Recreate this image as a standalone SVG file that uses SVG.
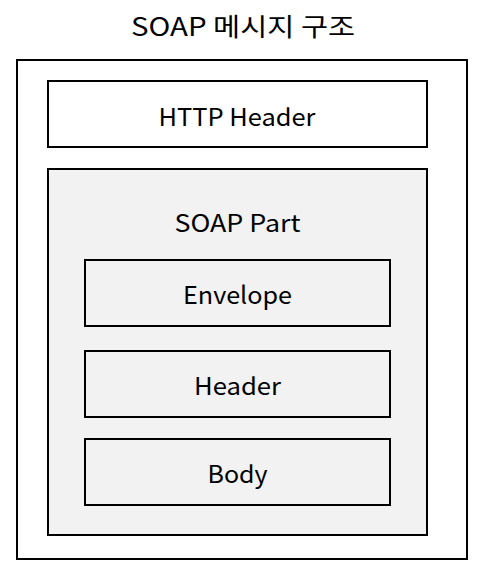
<svg xmlns="http://www.w3.org/2000/svg" width="489" height="573" viewBox="0 0 489 573">
<style>
rect{stroke:#000;stroke-width:2}
text{font-family:"Noto Sans CJK KR","Malgun Gothic","Noto Sans",sans-serif;font-size:24px;fill:#000;text-anchor:middle}
.t{font-size:25px}
.w{fill:#fff}.g{fill:#f2f2f2}
</style>
<rect width="489" height="573" fill="#fff" style="stroke:none"/>
<g id="title"><text class="t" x="243" y="36" textLength="224" lengthAdjust="spacingAndGlyphs">SOAP 메시지 구조</text></g>
<g id="message"><rect class="w" x="17" y="60" width="450" height="499"/></g>
<g id="http-header"><rect class="w" x="48" y="81" width="379" height="66"/><text x="237" y="126" textLength="157" lengthAdjust="spacingAndGlyphs">HTTP Header</text></g>
<g id="soap-part"><rect class="g" x="48" y="169" width="379" height="366"/><text x="237.5" y="232" textLength="126" lengthAdjust="spacingAndGlyphs">SOAP Part</text></g>
<g id="envelope"><rect class="g" x="85" y="260" width="305" height="66"/><text x="237.5" y="304" textLength="109" lengthAdjust="spacingAndGlyphs">Envelope</text></g>
<g id="header"><rect class="g" x="85" y="351" width="305" height="66"/><text x="237.5" y="395" textLength="87" lengthAdjust="spacingAndGlyphs">Header</text></g>
<g id="body"><rect class="g" x="85" y="439" width="305" height="66"/><text x="237.5" y="483" textLength="60" lengthAdjust="spacingAndGlyphs">Body</text></g>
<g id="connectors"/>
</svg>
